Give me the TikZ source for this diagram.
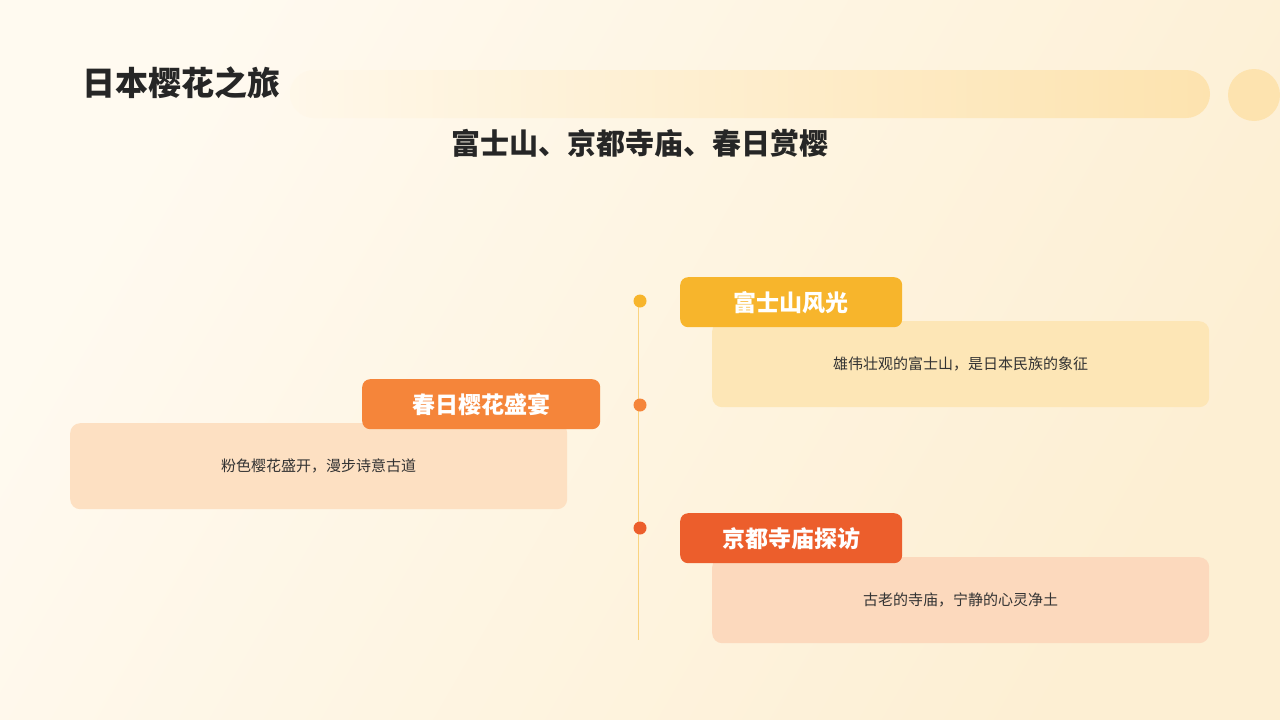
\documentclass[tikz,border=0pt]{standalone}
\usepackage{fontspec}
\setmainfont{Noto Sans CJK SC}
\begin{document}
\begin{tikzpicture}[x=1pt,y=-1pt,
  hdr/.style={rounded corners=8pt,inner sep=0pt,minimum height=50pt,text=white,font=\bfseries\fontsize{23}{26}\selectfont},
  body/.style={rounded corners=10pt,inner sep=0pt,minimum height=86pt,minimum width=497pt,text=black!80,font=\fontsize{15}{18}\selectfont},
  dot/.style={circle,inner sep=0pt,minimum size=13pt}]
\definecolor{bgA}{HTML}{FFFAF0}\definecolor{bgB}{HTML}{FDEFD3}
\definecolor{barc}{HTML}{FDE3AF}\definecolor{c1}{HTML}{F7B52C}\definecolor{c2}{HTML}{F5853A}\definecolor{c3}{HTML}{EC5E2C}
\definecolor{b1}{HTML}{FDE6B6}\definecolor{b2}{HTML}{FDE0C2}\definecolor{b3}{HTML}{FCD9BD}
\useasboundingbox (0,0) rectangle (1280,720);
\shade[left color=bgA,right color=bgB,shading angle=60] (0,0) rectangle (1280,720);
\shade[rounded corners=24pt,left color=barc!10!bgA,right color=barc] (290,70) rectangle (1210,118);
\node[circle,fill=barc,minimum size=52pt,inner sep=0pt] (circ) at (1254,95) {};
\node[anchor=west,text=black!85,font=\bfseries\fontsize{33}{36}\selectfont] (title) at (79,83) {日本樱花之旅};
\node[text=black!85,font=\bfseries\fontsize{29}{32}\selectfont] (sub) at (640,143) {富士山、京都寺庙、春日赏樱};
\coordinate (ltop) at (638,300); \coordinate (lbot) at (638,640);
\draw[color=c1!60,line width=1pt] (ltop) -- (lbot);
\node[dot,fill=c1] (d1) at (640,301) {};
\node[dot,fill=c2] (d2) at (640,405) {};
\node[dot,fill=c3] (d3) at (640,528) {};
\node[body,fill=b1,anchor=north west] (t1) at (712,321) {雄伟壮观的富士山，是日本民族的象征};
\node[hdr,fill=c1,minimum width=222pt,anchor=north west] (h1) at (680,277) {富士山风光};
\node[body,fill=b2,anchor=north west] (t2) at (70,423) {粉色樱花盛开，漫步诗意古道};
\node[hdr,fill=c2,minimum width=238pt,anchor=north west] (h2) at (362,379) {春日樱花盛宴};
\node[body,fill=b3,anchor=north west] (t3) at (712,557) {古老的寺庙，宁静的心灵净土};
\node[hdr,fill=c3,minimum width=222pt,anchor=north west] (h3) at (680,513) {京都寺庙探访};
\end{tikzpicture}
\end{document}
